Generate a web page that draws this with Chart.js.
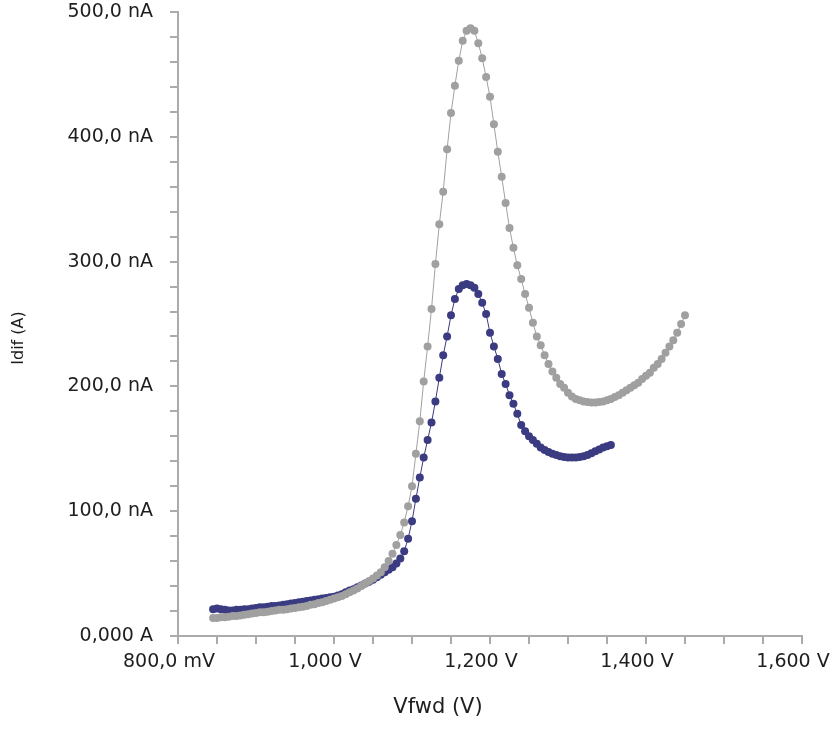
<!DOCTYPE html>
<html>
<head>
<meta charset="utf-8">
<script src="https://cdn.jsdelivr.net/npm/chart.js@4.4.0/dist/chart.umd.min.js"></script>
<style>
  html, body { margin: 0; padding: 0; background: #fff; }
  canvas { display: block; }
</style>
</head>
<body>
<canvas id="ivChart" width="834" height="729"></canvas>
<script>
// Sweep voltage (mV), shared by both curves
const vfwd = [
  845, 850, 855, 860, 865, 870, 875, 880, 885, 890,
  895, 900, 905, 910, 915, 920, 925, 930, 935, 940,
  945, 950, 955, 960, 965, 970, 975, 980, 985, 990,
  995, 1000, 1005, 1010, 1015, 1020, 1025, 1030, 1035, 1040,
  1045, 1050, 1055, 1060, 1065, 1070, 1075, 1080, 1085, 1090,
  1095, 1100, 1105, 1110, 1115, 1120, 1125, 1130, 1135, 1140,
  1145, 1150, 1155, 1160, 1165, 1170, 1175, 1180, 1185, 1190,
  1195, 1200, 1205, 1210, 1215, 1220, 1225, 1230, 1235, 1240,
  1245, 1250, 1255, 1260, 1265, 1270, 1275, 1280, 1285, 1290,
  1295, 1300, 1305, 1310, 1315, 1320, 1325, 1330, 1335, 1340,
  1345, 1350, 1355, 1360, 1365, 1370, 1375, 1380, 1385, 1390,
  1395, 1400, 1405, 1410, 1415, 1420, 1425, 1430, 1435, 1440,
  1445, 1450,
];

// Idif (nA), grey curve
const idifGrey = [
  14.5, 14.5, 15, 15, 15.5, 16, 16, 16.5, 17, 17.5,
  18, 18.5, 19, 19, 19.5, 20, 20.5, 21, 21, 21.5,
  22, 22.5, 23, 23.5, 24, 25, 25.5, 26.5, 27, 28,
  29, 30, 31, 32, 33.5, 35, 36.5, 38, 40, 42,
  44, 46, 48.5, 51, 55, 60, 66, 73, 81, 91,
  104, 120, 146, 172, 204, 232, 262, 298, 330, 356,
  390, 419, 441, 461, 477, 485, 487, 485, 475, 463,
  448, 432, 410, 388, 368, 347, 327, 311, 297, 286,
  274, 263, 251, 240, 233, 225, 218, 212, 207, 202,
  199, 195, 192, 190, 189, 188, 187.5, 187, 187, 187.5,
  188, 189, 190, 191.5, 193, 195, 197, 199, 201, 203,
  206, 208.5, 211, 215, 218, 222, 227, 232, 237, 243,
  250, 257,
];

// Idif (nA), blue curve (stops earlier in the sweep)
const idifBlue = [
  21.5, 22, 21.5, 21, 20.5, 20.5, 21, 21, 21.5, 21.5,
  22, 22.5, 23, 23, 23.5, 24, 24, 24.5, 25, 25.5,
  26, 26.5, 27, 27.5, 28, 28.5, 29, 29.5, 30, 30.5,
  31, 31.5, 32.5, 33.5, 35, 36.5, 37.5, 39, 40.5, 42,
  43.5, 45, 47, 49, 51, 53, 55, 58, 62, 68,
  78, 92, 110, 127, 143, 157, 171, 188, 207, 225,
  240, 257, 270, 278, 281, 282, 281, 279, 274, 267,
  258, 243, 232, 222, 210, 202, 193, 186, 178, 169,
  164, 160, 157, 154, 151, 149, 147.5, 146, 145, 144,
  143.5, 143, 143, 143, 143.5, 144, 145, 146.5, 148, 149.5,
  151, 152, 153,
];

const xMin = 800, xMax = 1600, xStep = 50;
const yMin = 0, yMax = 500, yStep = 20;
const xTitle = 'Vfwd (V)';
const yTitle = 'Idif (A)';

const greyColor = '#a0a0a0';
const blueColor = '#3b3b82';
const axisColor = '#ababab';
const textColor = '#1e1e1e';

const toPoints = (ys) => ys.map((y, i) => ({ x: vfwd[i], y: y }));

const xLabel = (v) => {
  if (v === 800) return '800,0 mV';
  if (v % 200 !== 0) return '';
  return (v / 1000).toFixed(3).replace('.', ',') + ' V';
};
const yLabel = (v) => {
  if (v === 0) return '0,000 A';
  if (v % 100 !== 0) return '';
  return v.toFixed(1).replace('.', ',') + ' nA';
};

const makeDataset = (ys, color) => ({
  data: toPoints(ys),
  borderColor: color,
  backgroundColor: color,
  borderWidth: 1,
  pointRadius: 4,
  pointBorderWidth: 0,
  pointBackgroundColor: color,
  tension: 0,
});

// axis titles sit off-centre in the original, so draw them by hand
const axisTitles = {
  id: 'axisTitles',
  afterDraw: (chart) => {
    const { ctx, chartArea, height } = chart;
    ctx.save();
    ctx.fillStyle = textColor;
    ctx.textAlign = 'center';
    ctx.textBaseline = 'middle';
    ctx.font = '21px "DejaVu Sans"';
    ctx.fillText(xTitle, chartArea.left + 260, height - 21);
    ctx.translate(19, chartArea.top + 326);
    ctx.rotate(-Math.PI / 2);
    ctx.font = '16px "DejaVu Sans"';
    ctx.fillText(yTitle, 0, 0);
    ctx.restore();
  },
};

new Chart(document.getElementById('ivChart'), {
  type: 'line',
  data: {
    datasets: [
      makeDataset(idifGrey, greyColor),
      makeDataset(idifBlue, blueColor),
    ],
  },
  options: {
    responsive: false,
    animation: false,
    devicePixelRatio: 1,
    layout: { padding: { left: 0, right: 32, top: 12, bottom: 0 } },
    plugins: { legend: { display: false }, tooltip: { enabled: false } },
    scales: {
      x: {
        type: 'linear',
        min: xMin,
        max: xMax,
        border: { color: axisColor, width: 2 },
        grid: { drawOnChartArea: false, tickLength: 8, color: axisColor, lineWidth: 2 },
        ticks: {
          stepSize: xStep,
          autoSkip: false,
          maxRotation: 0,
          padding: 7,
          labelOffset: -9,
          color: textColor,
          font: { family: 'DejaVu Sans', size: 19 },
          callback: xLabel,
        },
        afterFit: (scale) => {
          scale.height = 93;
          scale.paddingLeft = 0;
          scale.paddingRight = 0;
        },
      },
      y: {
        type: 'linear',
        min: yMin,
        max: yMax,
        border: { color: axisColor, width: 2 },
        grid: { drawOnChartArea: false, tickLength: 8, color: axisColor, lineWidth: 2 },
        ticks: {
          stepSize: yStep,
          autoSkip: false,
          padding: 17,
          color: textColor,
          font: { family: 'DejaVu Sans', size: 19 },
          callback: yLabel,
        },
        afterFit: (scale) => {
          scale.width = 178;
          scale.paddingTop = 0;
          scale.paddingBottom = 0;
        },
      },
    },
  },
  plugins: [axisTitles],
});
</script>
</body>
</html>
